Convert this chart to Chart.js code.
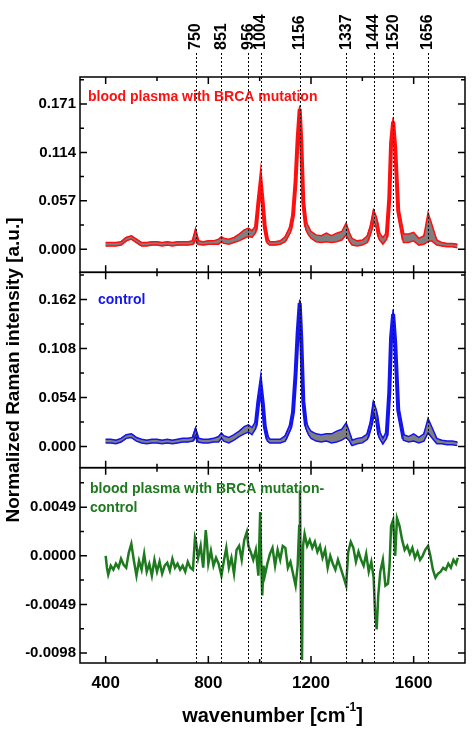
<!DOCTYPE html>
<html><head><meta charset="utf-8">
<script src="https://cdn.jsdelivr.net/npm/chart.js@4"></script>
<style>html,body{margin:0;padding:0;background:#fff}canvas{display:block}</style>
</head><body>
<div style="width:474px;height:733px"><canvas id="c" width="474" height="733"></canvas></div>
<script>
const wn = [400,420,440,460,480,500,520,540,560,580,600,620,640,660,680,700,720,740,750,760,780,800,820,840,851,860,880,900,920,940,956,970,985,995,1004,1012,1020,1030,1040,1060,1080,1100,1120,1130,1140,1148,1156,1162,1170,1180,1190,1200,1220,1240,1260,1280,1300,1320,1337,1350,1360,1380,1400,1420,1435,1444,1455,1465,1480,1495,1505,1512,1520,1528,1540,1560,1580,1600,1620,1640,1656,1670,1690,1710,1730,1750,1770];
const brcaMean = [0.006,0.006,0.006,0.007,0.012,0.014,0.010,0.006,0.006,0.007,0.007,0.006,0.007,0.006,0.007,0.007,0.007,0.008,0.018,0.008,0.007,0.008,0.008,0.009,0.012,0.010,0.009,0.011,0.014,0.018,0.020,0.018,0.024,0.055,0.080,0.055,0.026,0.010,0.007,0.007,0.008,0.012,0.024,0.040,0.080,0.130,0.165,0.128,0.055,0.028,0.022,0.017,0.013,0.012,0.014,0.012,0.014,0.016,0.024,0.014,0.009,0.007,0.008,0.012,0.026,0.040,0.032,0.016,0.010,0.016,0.060,0.125,0.150,0.120,0.045,0.013,0.013,0.015,0.009,0.011,0.026,0.020,0.008,0.006,0.005,0.005,0.004];
const brcaSd = [0.002,0.002,0.002,0.002,0.002,0.002,0.002,0.002,0.002,0.002,0.002,0.002,0.002,0.002,0.002,0.002,0.002,0.002,0.006,0.002,0.002,0.002,0.002,0.003,0.003,0.003,0.003,0.003,0.004,0.005,0.005,0.004,0.004,0.004,0.004,0.004,0.004,0.003,0.002,0.002,0.002,0.003,0.004,0.004,0.004,0.004,0.004,0.004,0.006,0.005,0.005,0.004,0.004,0.004,0.005,0.004,0.005,0.005,0.007,0.005,0.004,0.003,0.003,0.004,0.005,0.006,0.006,0.004,0.004,0.004,0.004,0.005,0.005,0.005,0.005,0.005,0.005,0.005,0.004,0.005,0.017,0.010,0.003,0.002,0.002,0.002,0.002];
const ctrlMean = [0.006,0.006,0.005,0.007,0.011,0.012,0.008,0.006,0.005,0.006,0.006,0.005,0.006,0.005,0.006,0.007,0.007,0.008,0.016,0.007,0.006,0.006,0.007,0.008,0.012,0.009,0.007,0.010,0.014,0.018,0.020,0.017,0.024,0.050,0.068,0.048,0.022,0.009,0.006,0.006,0.006,0.009,0.022,0.038,0.080,0.125,0.158,0.120,0.050,0.024,0.017,0.013,0.010,0.009,0.010,0.009,0.011,0.013,0.018,0.011,0.004,0.006,0.007,0.011,0.026,0.043,0.034,0.014,0.006,0.013,0.060,0.120,0.146,0.115,0.040,0.010,0.008,0.010,0.007,0.010,0.023,0.016,0.006,0.005,0.004,0.004,0.003];
const ctrlSd = [0.002,0.002,0.002,0.002,0.002,0.002,0.002,0.002,0.002,0.002,0.002,0.002,0.002,0.002,0.002,0.002,0.002,0.002,0.004,0.002,0.002,0.002,0.002,0.003,0.003,0.003,0.003,0.003,0.003,0.004,0.004,0.004,0.004,0.004,0.005,0.004,0.003,0.003,0.002,0.002,0.002,0.003,0.003,0.004,0.004,0.004,0.004,0.004,0.004,0.004,0.004,0.004,0.004,0.004,0.004,0.005,0.006,0.006,0.008,0.005,0.003,0.003,0.003,0.003,0.004,0.006,0.006,0.004,0.003,0.004,0.004,0.005,0.005,0.005,0.004,0.003,0.003,0.004,0.003,0.004,0.008,0.006,0.003,0.002,0.002,0.002,0.002];
const diffX = [400,405,410,420,430,440,450,460,470,480,490,500,510,520,530,540,550,560,570,580,590,600,610,620,630,640,650,660,670,680,690,700,710,720,730,740,748,752,760,770,780,790,795,800,810,820,830,840,851,860,870,880,890,900,910,920,930,940,950,956,965,975,985,995,1002,1006,1010,1015,1020,1030,1040,1050,1060,1070,1080,1090,1100,1110,1120,1130,1140,1148,1154,1157,1161,1165,1169,1175,1185,1195,1205,1215,1225,1235,1245,1255,1265,1275,1285,1295,1305,1315,1325,1337,1345,1355,1365,1375,1385,1395,1405,1415,1425,1435,1444,1450,1456,1462,1470,1480,1490,1500,1506,1512,1520,1528,1535,1545,1555,1565,1575,1585,1595,1605,1615,1625,1635,1645,1656,1665,1675,1685,1695,1705,1715,1725,1735,1745,1755,1765,1772];
const diffY = [0.0000,-0.0012,-0.0019,-0.0010,-0.0014,-0.0008,-0.0012,-0.0003,-0.0009,-0.0012,0.0003,0.0012,-0.0005,-0.0020,-0.0005,-0.0014,0.0002,-0.0016,-0.0008,-0.0020,-0.0004,-0.0016,-0.0006,-0.0018,-0.0010,-0.0007,-0.0015,-0.0003,-0.0012,-0.0008,-0.0014,-0.0010,-0.0016,-0.0006,-0.0012,-0.0014,0.0018,0.0014,-0.0002,0.0010,-0.0012,0.0026,0.0012,-0.0008,0.0005,-0.0010,-0.0002,-0.0008,-0.0020,-0.0006,0.0008,-0.0012,-0.0002,-0.0018,0.0006,0.0010,-0.0004,0.0016,0.0024,0.0010,0.0004,-0.0004,0.0006,-0.0020,0.0044,-0.0004,-0.0040,-0.0010,-0.0020,-0.0008,0.0002,0.0008,-0.0010,0.0006,-0.0004,0.0010,0.0008,-0.0012,-0.0006,-0.0018,-0.0030,-0.0010,0.0030,0.0066,-0.0060,-0.0105,0.0010,0.0022,0.0010,0.0016,0.0008,0.0014,0.0004,0.0010,-0.0002,0.0006,-0.0012,0.0000,-0.0008,-0.0014,-0.0004,-0.0012,-0.0020,-0.0030,0.0004,0.0014,0.0008,-0.0006,0.0004,-0.0004,-0.0010,0.0002,-0.0016,-0.0006,-0.0022,-0.0060,-0.0074,-0.0040,-0.0016,-0.0004,-0.0030,-0.0028,-0.0010,0.0030,0.0036,0.0000,0.0038,0.0030,0.0016,0.0006,0.0010,0.0002,0.0008,-0.0002,0.0004,-0.0004,0.0000,0.0006,0.0010,0.0000,-0.0014,-0.0022,-0.0018,-0.0016,-0.0012,-0.0014,-0.0008,-0.0012,-0.0004,-0.0008,-0.0002,-0.0010,0.0000];
const peakLines = [750,851,956,1004,1156,1337,1444,1520,1656];
const xTicks = [400,800,1200,1600];
const xMinor = [600,1000,1400];
const yTicksTop = [0,0.057,0.114,0.171];
const yTicksMid = [0,0.054,0.108,0.162];
const yTicksBot = [-0.0098,-0.0049,0,0.0049];

const pts = (xs, ys) => xs.map((x,i)=>({x, y: ys[i]}));
const add = (m,s,k) => m.map((v,i)=>v + k*s[i]);

function bandSets(mean, sd, color, axis){
  return [
    {data: pts(wn, add(mean,sd,1)), borderColor: color, borderWidth: 1.5, pointRadius:0, fill:false, yAxisID: axis, tension:0},
    {data: pts(wn, add(mean,sd,-1)), borderColor: color, borderWidth: 1.5, pointRadius:0, fill:'-1', backgroundColor:'#7f7f7f', yAxisID: axis, tension:0},
    {data: pts(wn, mean), borderColor: color, borderWidth: 4, pointRadius:0, fill:false, yAxisID: axis, tension:0}
  ];
}
const FONT = 'Liberation Sans, Arial, sans-serif';
function yScale(min,max,ticks,dec,weight){
  return {type:'linear', position:'left', stack:'s', stackWeight:1, weight, min, max,
    grid:{display:false, drawTicks:false}, border:{display:false},
    afterBuildTicks: s => { s.ticks = ticks.map(v=>({value:v})); },
    afterFit: s => { s.width = 80; },
    ticks:{color:'#000', padding:4, font:{family:FONT, size:15, weight:'bold'}, callback: v => v.toFixed(dec)}};
}
const minorOf = t => { const r=[]; for(let i=0;i<t.length-1;i++) r.push((t[i]+t[i+1])/2); r.push(t[t.length-1]+(t[1]-t[0])/2); r.unshift(t[0]-(t[1]-t[0])/2); return r; };

const deco = {
  id:'deco',
  afterDatasetsDraw(chart){
    const ctx = chart.ctx, xs = chart.scales.x, ca = chart.chartArea;
    const L = ca.left, R = ca.right;
    ctx.save();
    ctx.strokeStyle = '#000'; ctx.lineWidth = 1; ctx.setLineDash([2,2]);
    peakLines.forEach(p => { const x = Math.round(xs.getPixelForValue(p))+0.5; ctx.beginPath(); ctx.moveTo(x,53); ctx.lineTo(x,ca.bottom); ctx.stroke(); });
    ctx.setLineDash([]);
    ctx.fillStyle = '#000'; ctx.font = 'bold 16px '+FONT; ctx.textAlign='left'; ctx.textBaseline='middle';
    peakLines.forEach(p => { const x = xs.getPixelForValue(p); ctx.save(); ctx.translate(x,50); ctx.rotate(-Math.PI/2); ctx.fillText(String(p),0,0); ctx.restore(); });
    ctx.lineWidth = 1.5;
    [['yTop',yTicksTop],['yMid',yTicksMid],['yBot',yTicksBot]].forEach(([id,tk]) => {
      const s = chart.scales[id];
      ctx.strokeRect(L, s.top, R-L, s.bottom-s.top);
      ctx.beginPath();
      xTicks.forEach(v => { const x = xs.getPixelForValue(v); ctx.moveTo(x,s.bottom); ctx.lineTo(x,s.bottom-7); ctx.moveTo(x,s.top); ctx.lineTo(x,s.top+7); });
      xMinor.forEach(v => { const x = xs.getPixelForValue(v); ctx.moveTo(x,s.bottom); ctx.lineTo(x,s.bottom-4); ctx.moveTo(x,s.top); ctx.lineTo(x,s.top+4); });
      tk.forEach(v => { const y = s.getPixelForValue(v); ctx.moveTo(L,y); ctx.lineTo(L+7,y); ctx.moveTo(R,y); ctx.lineTo(R-7,y); });
      minorOf(tk).forEach(v => { const y = s.getPixelForValue(v); if (y> s.top && y < s.bottom){ ctx.moveTo(L,y); ctx.lineTo(L+4,y); ctx.moveTo(R,y); ctx.lineTo(R-4,y);} });
      ctx.stroke();
    });
    ctx.textAlign='left'; ctx.textBaseline='middle'; ctx.font = 'bold 14px '+FONT;
    const st = chart.scales.yTop, sm = chart.scales.yMid, sb = chart.scales.yBot;
    ctx.fillStyle = '#ff1010'; ctx.fillText('blood plasma with BRCA mutation', 88, st.top+20);
    ctx.fillStyle = '#1515ee'; ctx.fillText('control', 98, sm.top+28);
    ctx.fillStyle = '#1e7a1e'; ctx.fillText('blood plasma with BRCA mutation-', 90, sb.top+21); ctx.fillText('control', 90, sb.top+40);
    ctx.fillStyle = '#000'; ctx.font = 'bold 19px '+FONT; ctx.textAlign='center';
    ctx.save(); ctx.translate(14, (st.top+sb.bottom)/2); ctx.rotate(-Math.PI/2); ctx.fillText('Normalized Raman intensity [a.u.]',0,0); ctx.restore();
    ctx.textAlign='left';
    const t1 = 'wavenumber [cm', t2 = ']';
    ctx.font = 'bold 20px '+FONT; const w1 = ctx.measureText(t1).width, w2 = ctx.measureText(t2).width;
    ctx.font = 'bold 12px '+FONT; const ws = ctx.measureText('-1').width;
    const x0 = (L+R)/2 - (w1+ws+w2)/2, yT = 716;
    ctx.font = 'bold 20px '+FONT; ctx.fillText(t1, x0, yT);
    ctx.font = 'bold 12px '+FONT; ctx.fillText('-1', x0+w1, yT-8);
    ctx.font = 'bold 20px '+FONT; ctx.fillText(t2, x0+w1+ws, yT);
    ctx.restore();
  }
};

new Chart(document.getElementById('c'), {
  type:'line',
  data:{datasets:[
    ...bandSets(brcaMean, brcaSd, '#ff1010', 'yTop'),
    ...bandSets(ctrlMean, ctrlSd, '#1515ee', 'yMid'),
    {data: pts(diffX, diffY), borderColor:'#1e7a1e', borderWidth:2.5, pointRadius:0, fill:false, yAxisID:'yBot', tension:0}
  ]},
  options:{
    responsive:false, animation:false, events:[],
    layout:{padding:{top:77, right:9, left:0, bottom:0}},
    plugins:{legend:{display:false}, tooltip:{enabled:false}},
    scales:{
      x:{type:'linear', min:300, max:1800, grid:{display:false, drawTicks:false}, border:{display:false},
        afterBuildTicks: s => { s.ticks = xTicks.map(v=>({value:v})); },
        afterFit: s => { s.height = 70; },
        ticks:{color:'#000', padding:10, font:{family:FONT, size:17, weight:'bold'}, callback: v => String(v)}},
      yTop: yScale(-0.027, 0.2026, yTicksTop, 3, 3),
      yMid: yScale(-0.0233, 0.192, yTicksMid, 3, 2),
      yBot: yScale(-0.0108, 0.00888, yTicksBot, 4, 1)
    }
  },
  plugins:[deco]
});
</script>
</body></html>
